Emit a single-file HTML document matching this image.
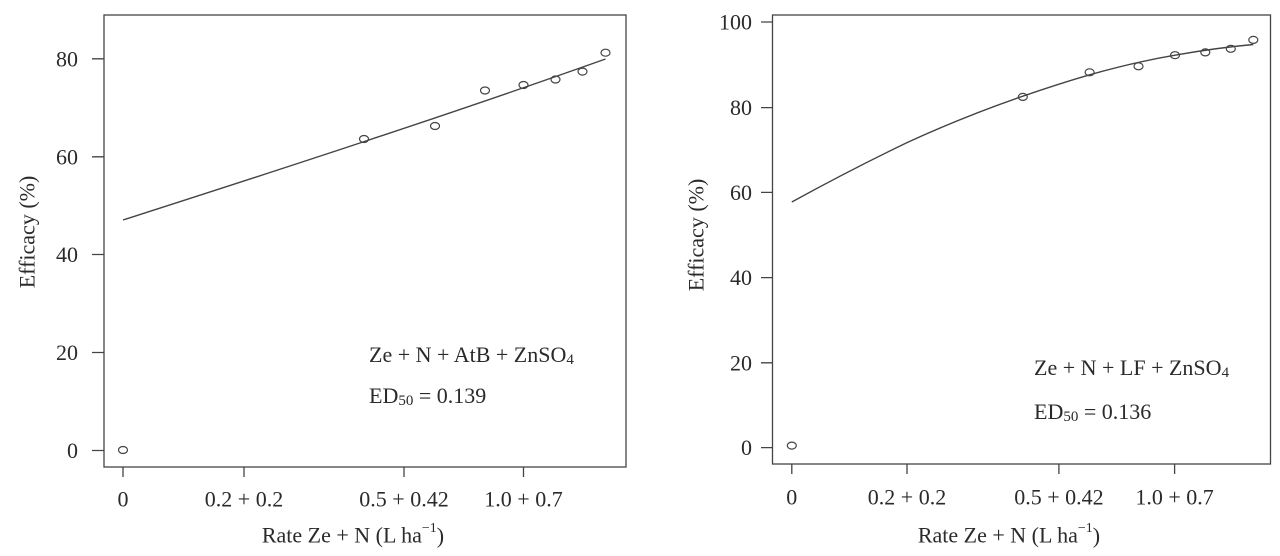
<!DOCTYPE html>
<html><head><meta charset="utf-8"><style>
html,body{margin:0;padding:0;background:#fff;}
svg{display:block;}
text{font-family:"Liberation Serif",serif;fill:#2a2a2a;font-size:22px;}
</style></head><body>
<svg width="1280" height="556" viewBox="0 0 1280 556" xmlns="http://www.w3.org/2000/svg">
<g stroke="#444" stroke-width="1.3" fill="none">
<!-- Left panel -->
<rect x="104" y="15" width="522" height="452"/>
<path d="M92 58.8H104M92 156.8H104M92 254.5H104M92 352.5H104M92 450.5H104"/>
<path d="M123 467V477M244 467V477M404 467V477M523.5 467V477"/>
<path d="M123 220 C285 168 445 116 605.5 59" stroke-width="1.4"/>
<g stroke-width="1.2">
<ellipse cx="123" cy="450" rx="4.5" ry="3.5"/>
<ellipse cx="364" cy="139" rx="4.5" ry="3.5"/>
<ellipse cx="435" cy="126" rx="4.5" ry="3.5"/>
<ellipse cx="485" cy="90.5" rx="4.5" ry="3.5"/>
<ellipse cx="523.5" cy="85" rx="4.5" ry="3.5"/>
<ellipse cx="555.5" cy="79.5" rx="4.5" ry="3.5"/>
<ellipse cx="582.5" cy="71.6" rx="4.5" ry="3.5"/>
<ellipse cx="605.5" cy="52.7" rx="4.5" ry="3.5"/>
</g>
<!-- Right panel -->
<rect x="772.5" y="15" width="498" height="449"/>
<path d="M761 22H772.5M761 107.6H772.5M761 192.4H772.5M761 277.6H772.5M761 362.8H772.5M761 447.6H772.5"/>
<path d="M791.8 464V474M907 464V474M1058.9 464V474M1174.6 464V474"/>
<path d="M791.8 202 Q850 170 907 142.6 Q965 116 1022.8 96.2 Q1058 84 1089.6 74.8 Q1135 62 1175 55.2 Q1215 48 1253.3 44.5" stroke-width="1.4"/>
<g stroke-width="1.2">
<ellipse cx="791.8" cy="445.6" rx="4.5" ry="3.5"/>
<ellipse cx="1022.8" cy="96.9" rx="4.5" ry="3.5"/>
<ellipse cx="1089.6" cy="72.3" rx="4.5" ry="3.5"/>
<ellipse cx="1138.5" cy="66.3" rx="4.5" ry="3.5"/>
<ellipse cx="1175" cy="55.2" rx="4.5" ry="3.5"/>
<ellipse cx="1205.3" cy="52.4" rx="4.5" ry="3.5"/>
<ellipse cx="1230.8" cy="48.8" rx="4.5" ry="3.5"/>
<ellipse cx="1253.3" cy="39.9" rx="4.5" ry="3.5"/>
</g>
</g>
<!-- Left labels -->
<g text-anchor="end" dominant-baseline="central">
<text x="78" y="58.8">80</text><text x="78" y="156.8">60</text><text x="78" y="254.5">40</text><text x="78" y="352.5">20</text><text x="78" y="450.5">0</text>
</g>
<g text-anchor="middle" dominant-baseline="central">
<text x="123" y="499">0</text><text x="244" y="499">0.2 + 0.2</text><text x="404" y="499">0.5 + 0.42</text><text x="523.5" y="499">1.0 + 0.7</text>
<text x="353" y="535">Rate Ze + N (L ha<tspan font-size="14" dy="-7">−1</tspan><tspan dy="7">)</tspan></text>
<text transform="translate(27,232) rotate(-90)">Efficacy (%)</text>
</g>
<text x="369" y="362">Ze + N + AtB + ZnSO<tspan font-size="15" dy="2">4</tspan></text>
<text x="369" y="403">ED<tspan font-size="15" dy="2">50</tspan><tspan dy="-2"> = 0.139</tspan></text>
<!-- Right labels -->
<g text-anchor="end" dominant-baseline="central">
<text x="752" y="22">100</text><text x="752" y="107.6">80</text><text x="752" y="192.4">60</text><text x="752" y="277.6">40</text><text x="752" y="362.8">20</text><text x="752" y="447.6">0</text>
</g>
<g text-anchor="middle" dominant-baseline="central">
<text x="791.8" y="497">0</text><text x="907" y="497">0.2 + 0.2</text><text x="1058.9" y="497">0.5 + 0.42</text><text x="1174.6" y="497">1.0 + 0.7</text>
<text x="1009" y="535">Rate Ze + N (L ha<tspan font-size="14" dy="-7">−1</tspan><tspan dy="7">)</tspan></text>
<text transform="translate(696,235) rotate(-90)">Efficacy (%)</text>
</g>
<text x="1034" y="375">Ze + N + LF + ZnSO<tspan font-size="15" dy="2">4</tspan></text>
<text x="1034" y="419">ED<tspan font-size="15" dy="2">50</tspan><tspan dy="-2"> = 0.136</tspan></text>
</svg>
</body></html>
